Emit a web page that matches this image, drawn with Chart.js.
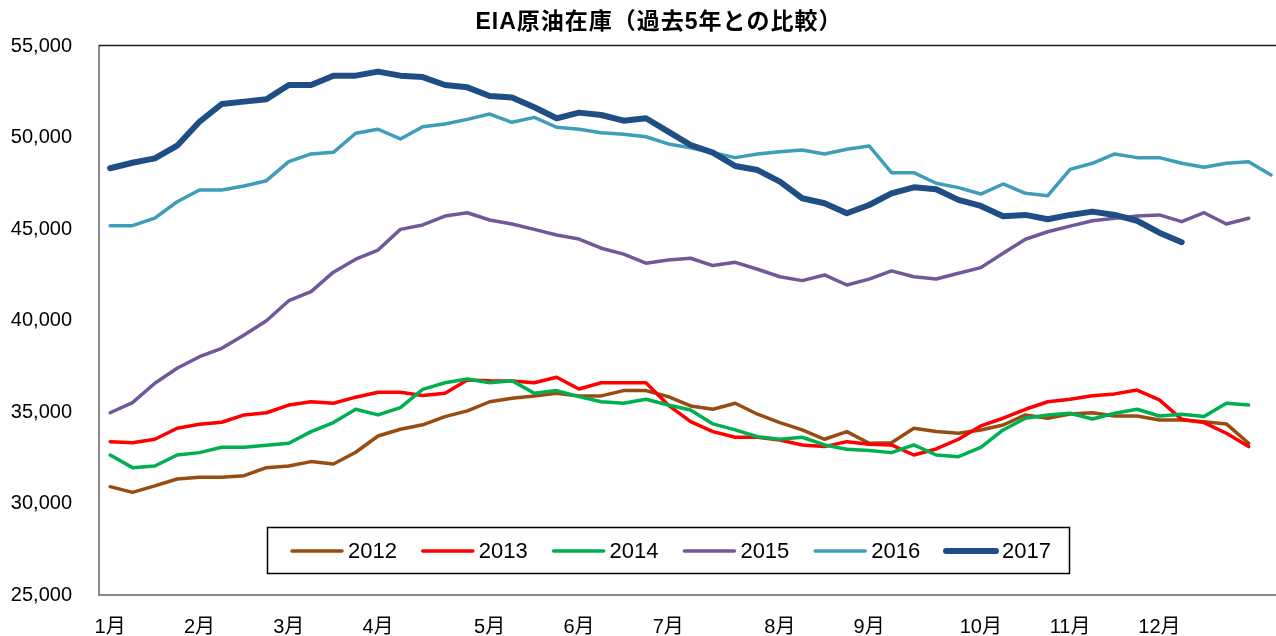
<!DOCTYPE html>
<html>
<head>
<meta charset="utf-8">
<script src="https://cdn.jsdelivr.net/npm/chart.js@4.4.1/dist/chart.umd.min.js"></script>
<style>
html,body{margin:0;padding:0;background:#fff;overflow:hidden;}
#wrap{width:1276px;height:636px;overflow:hidden;position:relative;}
canvas{display:block;}
</style>
</head>
<body>
<div id="wrap"><canvas id="c" width="1291" height="636"></canvas></div>
<script>
const chartTitle = 'EIA原油在庫（過去5年との比較）';
const monthLabels = ['1月','2月','3月','4月','5月','6月','7月','8月','9月','10月','11月','12月'];
const monthWeekIndex = [0,4,8,12,17,21,25,30,34,39,43,47];
const weekCount = 53;
const yTicks = [25000,30000,35000,40000,45000,50000,55000];

const seriesNames = ['2012','2013','2014','2015','2016','2017'];
const y2012 = [30920,30610,30960,31340,31430,31430,31520,31960,32050,32290,32160,32800,33690,34060,34300,
  34750,35060,35560,35750,35880,36020,35880,35880,36170,36170,35840,35330,35150,35480,34880,34420,34020,33510,33930,
  33290,33320,34110,33930,33840,34020,34290,34840,34660,34890,34960,34780,34780,34560,34560,34470,34350,33290];
const y2013 = [33380,33320,33510,34110,34330,34440,34840,34960,35380,35560,35480,35810,36080,36080,35900,
  36020,36750,36710,36700,36600,36900,36260,36600,36600,36600,
  35380,34470,33930,33620,33620,33470,33200,33110,33380,
  33240,33200,32650,32980,33510,34240,34660,35150,35560,35700,35890,35990,36200,35660,34600,34420,33840,33110];
const y2014 = [32650,31960,32050,32650,32780,33070,33070,33180,33290,33930,34420,35150,34840,35240,36240,
  36600,36800,36600,36710,36020,36170,35840,35560,35480,35700,35380,35110,34350,34020,33650,33510,33620,33200,32960,
  32890,32780,33200,32650,32560,33070,34020,34660,34840,34930,34620,34930,35150,34780,34880,34750,35480,35380];
const y2015 = [34960,35510,36570,37390,38020,38480,39210,39990,41080,41580,42640,43350,43850,44980,45220,
  45710,45890,45490,45270,44980,44670,44450,43950,43630,43130,43310,43400,43000,43180,42800,42390,42180,42490,41940,
  42260,42710,42390,42270,42580,42890,43670,44440,44850,45160,45450,45590,45710,45770,45400,45890,45270,45590];
const y2016 = [45180,45180,45590,46490,47130,47130,47350,47640,48680,49100,49190,50230,50450,49920,50590,
  50740,50990,51280,50830,51100,50560,50450,50260,50180,50040,49650,49440,49170,48900,49100,49220,49320,49100,49360,
  49540,48080,48080,47500,47260,46910,47460,46950,46820,48260,48590,49100,48900,48900,48590,48370,48590,48680,47950];
const y2017 = [48320,48620,48860,49550,50860,51830,51960,52090,52870,52870,53380,53380,53600,53380,53300,
  52870,52740,52270,52180,51650,51050,51360,51230,50920,51050,50320,49590,49170,48440,48220,47590,46680,46410,45860,
  46310,46950,47280,47170,46590,46260,45700,45770,45530,45770,45950,45770,45450,44800,44280];

const seriesValues = [y2012,y2013,y2014,y2015,y2016,y2017];
const seriesColors = ['#994C12','#FF0000','#00B050','#71589B','#3E9DB8','#1F4E84'];
const seriesWidths = [3.5,3.5,3.5,3.5,3.5,6];

const categories = Array.from({length: weekCount}, (_, i) => {
  const k = monthWeekIndex.indexOf(i);
  return k >= 0 ? monthLabels[k] : '';
});

const fontFamily = '"Liberation Sans", "Noto Sans CJK JP", sans-serif';

const decorPlugin = {
  id: 'decor',
  afterDraw(chart) {
    const ctx = chart.ctx;
    const area = chart.chartArea;
    ctx.save();
    ctx.strokeStyle = '#1a1a1a';
    ctx.lineWidth = 1.5;
    ctx.beginPath();
    ctx.moveTo(area.left, area.top - 0.5);
    ctx.lineTo(chart.width, area.top - 0.5);
    ctx.stroke();
    ctx.fillStyle = '#000';
    ctx.font = 'bold 23px ' + fontFamily;
    ctx.textAlign = 'center';
    ctx.textBaseline = 'middle';
    try { ctx.letterSpacing = '1px'; } catch (e) {}
    ctx.fillText(chartTitle, 659, 23);
    try { ctx.letterSpacing = '0px'; } catch (e) {}
    const bx = 267.5, by = 527.5, bw = 802, bh = 46;
    ctx.fillStyle = '#fff';
    ctx.fillRect(bx, by, bw, bh);
    ctx.strokeStyle = '#000';
    ctx.lineWidth = 1.5;
    ctx.strokeRect(bx, by, bw, bh);
    ctx.font = '22px ' + fontFamily;
    ctx.textAlign = 'left';
    ctx.textBaseline = 'middle';
    const ly = 551;
    chart.data.datasets.forEach((ds, k) => {
      const x0 = 292 + k * 130.8;
      ctx.strokeStyle = ds.borderColor;
      ctx.lineWidth = ds.borderWidth;
      ctx.lineCap = 'round';
      ctx.beginPath();
      ctx.moveTo(x0, ly);
      ctx.lineTo(x0 + 50, ly);
      ctx.stroke();
      ctx.fillStyle = '#000';
      ctx.fillText(ds.label, x0 + 56, ly + 1);
    });
    ctx.restore();
  }
};

new Chart(document.getElementById('c'), {
  type: 'line',
  data: {
    labels: categories,
    datasets: seriesNames.map((name, k) => ({
      label: name,
      data: seriesValues[k],
      borderColor: seriesColors[k],
      backgroundColor: seriesColors[k],
      borderWidth: seriesWidths[k],
      pointRadius: 0,
      tension: 0,
      fill: false,
      order: seriesNames.length - k,
      borderJoinStyle: 'round',
      borderCapStyle: 'round'
    }))
  },
  options: {
    responsive: false,
    animation: false,
    devicePixelRatio: 1,
    layout: { padding: { top: 46, left: 11, right: 0, bottom: 0 } },
    plugins: {
      legend: { display: false },
      title: { display: false },
      tooltip: { enabled: false }
    },
    scales: {
      x: {
        type: 'category',
        offset: true,
        grid: { display: false, drawTicks: false },
        border: { display: true, color: '#8a8a8a', width: 2 },
        afterFit(scale) { scale.height = 41; },
        ticks: {
          autoSkip: false, maxRotation: 0, minRotation: 0, padding: 20,
          color: '#000', font: { family: fontFamily, size: 20 }
        }
      },
      y: {
        min: yTicks[0],
        max: yTicks[yTicks.length - 1],
        afterBuildTicks(scale) { scale.ticks = yTicks.map(v => ({ value: v })); },
        afterFit(scale) { scale.width = 88; },
        grid: { display: false, drawTicks: false },
        border: { display: true, color: '#8a8a8a', width: 2 },
        ticks: {
          padding: 27, color: '#000', font: { family: fontFamily, size: 20 },
          callback: v => Number(v).toLocaleString('en-US')
        }
      }
    }
  },
  plugins: [decorPlugin]
});
</script>
</body>
</html>
